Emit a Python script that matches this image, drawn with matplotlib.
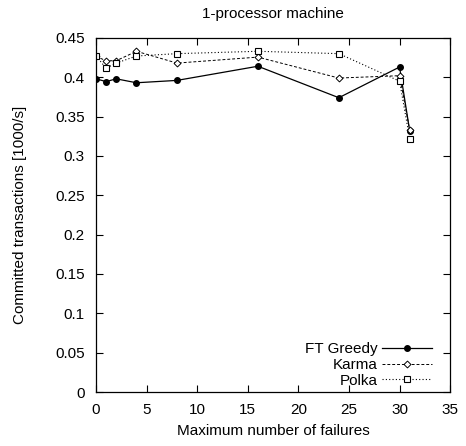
import matplotlib
matplotlib.use("Agg")
import matplotlib.pyplot as plt

plt.rcParams['font.family'] = ['Liberation Sans', 'DejaVu Sans']

x_vals = [0, 1, 2, 4, 8, 16, 24, 30, 31]
ft_greedy = [0.398, 0.3945, 0.398, 0.393, 0.396, 0.414, 0.374, 0.413, 0.332]
karma = [0.4265, 0.421, 0.421, 0.433, 0.418, 0.4256, 0.399, 0.402, 0.333]
polka = [0.427, 0.4116, 0.418, 0.427, 0.430, 0.433, 0.430, 0.395, 0.322]

fig = plt.figure(figsize=(4.66, 4.46), dpi=100)
ax = fig.add_axes([0.206, 0.121, 0.76, 0.794])

ax.plot(x_vals, ft_greedy, color='black', linestyle='-', linewidth=0.9,
        marker='o', markersize=4, markerfacecolor='black', label='FT Greedy')
ax.plot(x_vals, karma, color='black', linestyle=(0, (3, 2)), linewidth=0.7,
        marker='D', markersize=3.5, markerfacecolor='white', markeredgewidth=0.7, label='Karma')
ax.plot(x_vals, polka, color='black', linestyle=(0, (1, 2)), linewidth=0.8,
        marker='s', markersize=5, markerfacecolor='white', markeredgewidth=0.8, label='Polka')

ax.set_xlim(0, 35)
ax.set_ylim(0, 0.45)
ax.set_xticks(range(0, 36, 5))
ax.set_yticks([0, 0.05, 0.1, 0.15, 0.2, 0.25, 0.3, 0.35, 0.4, 0.45])
ax.set_yticklabels(['0', '0.05', '0.1', '0.15', '0.2', '0.25', '0.3', '0.35', '0.4', '0.45'])
ax.tick_params(direction='in', top=True, right=True, length=5, width=0.8, labelsize=11)
ax.tick_params(axis='y', pad=8)
ax.tick_params(axis='x', pad=8)
for s in ax.spines.values():
    s.set_linewidth(0.9)

ax.set_xlabel('Maximum number of failures', fontsize=11, labelpad=5)
ax.set_ylabel('Committed transactions [1000/s]', fontsize=11, labelpad=20)
ax.set_title('1-processor machine', fontsize=11, pad=14)

leg = ax.legend(loc='lower right', bbox_to_anchor=(0.949, 0.012), frameon=False,
                markerfirst=False, fontsize=11, handlelength=3.3, handletextpad=0.25,
                labelspacing=0.12, borderaxespad=0, borderpad=0)

fig.savefig('out.png', dpi=100)
